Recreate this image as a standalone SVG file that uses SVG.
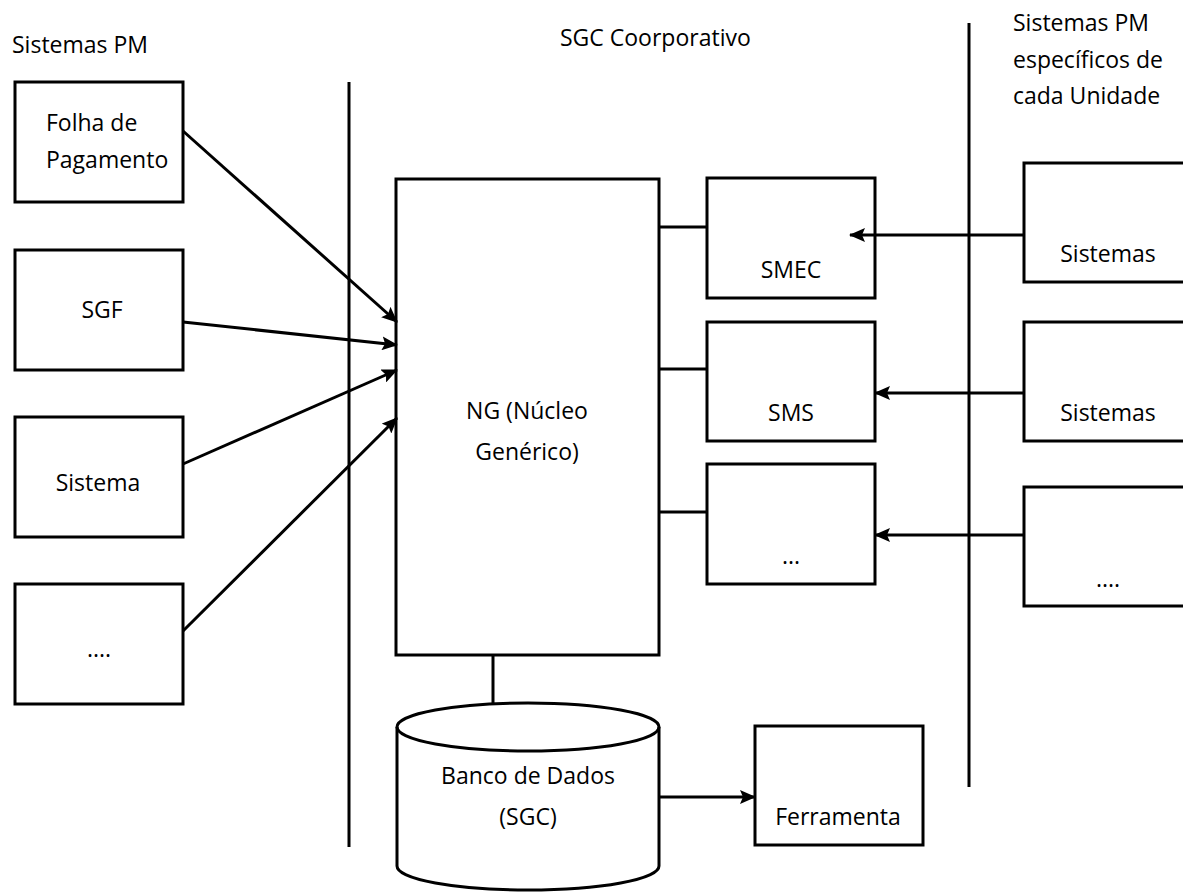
<svg xmlns="http://www.w3.org/2000/svg" width="1183" height="892" viewBox="0 0 1183 892">
<style>
.box{fill:#fff;stroke:#000;stroke-width:3}
.ln{fill:none;stroke:#000;stroke-width:3}
.arr{fill:none;stroke:#000;stroke-width:3;marker-end:url(#ah)}
text{font-family:"Open Sans","Noto Sans","DejaVu Sans",sans-serif;font-size:23px;fill:#000}
.c{text-anchor:middle}
</style>
<defs>
<marker id="ah" markerUnits="userSpaceOnUse" markerWidth="16" markerHeight="14" refX="15" refY="7" orient="auto">
<path d="M0,0 L16,7 L0,14 L3,7 Z" fill="#000"/>
</marker>
</defs>
<rect width="1183" height="892" fill="#fff"/>
<g id="headers">
<text x="12" y="53">Sistemas PM</text>
<text x="560" y="46">SGC Coorporativo</text>
<text x="1013" y="31">Sistemas PM</text>
<text x="1013" y="68">específicos de</text>
<text x="1013" y="104">cada Unidade</text>
</g>
<g id="dividers">
<line class="ln" x1="349" y1="82" x2="349" y2="847"/>
<line class="ln" x1="969" y1="23" x2="969" y2="787"/>
</g>
<g id="folha">
<rect class="box" x="15" y="82" width="168" height="120"/>
<text x="46" y="131">Folha de</text>
<text x="46" y="168">Pagamento</text>
</g>
<g id="sgf">
<rect class="box" x="15" y="250" width="168" height="120"/>
<text class="c" x="102" y="318">SGF</text>
</g>
<g id="sistema">
<rect class="box" x="15" y="417" width="168" height="120"/>
<text class="c" x="98" y="491">Sistema</text>
</g>
<g id="outros-left">
<rect class="box" x="15" y="584" width="168" height="120"/>
<text class="c" x="99" y="657">....</text>
</g>
<g id="ng">
<rect class="box" x="396" y="179" width="263" height="476"/>
<text class="c" x="527" y="419">NG (Núcleo</text>
<text class="c" x="527" y="460">Genérico)</text>
</g>
<g id="smec">
<rect class="box" x="707" y="178" width="168" height="120"/>
<text class="c" x="791" y="278">SMEC</text>
</g>
<g id="sms">
<rect class="box" x="707" y="322" width="168" height="119"/>
<text class="c" x="791" y="421">SMS</text>
</g>
<g id="outros-mid">
<rect class="box" x="707" y="464" width="168" height="120"/>
<text class="c" x="791" y="564">...</text>
</g>
<g id="sistemas1">
<rect class="box" x="1024" y="163" width="168" height="119"/>
<text class="c" x="1108" y="262">Sistemas</text>
</g>
<g id="sistemas2">
<rect class="box" x="1024" y="322" width="168" height="119"/>
<text class="c" x="1108" y="421">Sistemas</text>
</g>
<g id="outros-right">
<rect class="box" x="1024" y="487" width="168" height="119"/>
<text class="c" x="1108" y="587">....</text>
</g>
<g id="banco">
<path class="box" d="M397,727 L397,866 A131,24 0 0 0 659,866 L659,727 A131,24 0 0 0 397,727 Z"/>
<path class="ln" d="M397,727 A131,24 0 0 0 659,727"/>
<text class="c" x="528" y="784">Banco de Dados</text>
<text class="c" x="528" y="825">(SGC)</text>
</g>
<g id="ferramenta">
<rect class="box" x="755" y="726" width="168" height="119"/>
<text class="c" x="838" y="825">Ferramenta</text>
</g>
<g id="connectors">
<line class="arr" x1="183" y1="131" x2="397" y2="322"/>
<line class="arr" x1="183" y1="322" x2="397" y2="345"/>
<line class="arr" x1="183" y1="464" x2="397" y2="370"/>
<line class="arr" x1="183" y1="631" x2="397" y2="418"/>
<line class="ln" x1="659" y1="227" x2="707" y2="227"/>
<line class="ln" x1="659" y1="369" x2="707" y2="369"/>
<line class="ln" x1="659" y1="512" x2="707" y2="512"/>
<line class="ln" x1="493" y1="655" x2="493" y2="703"/>
<line class="arr" x1="1024" y1="235" x2="850" y2="235"/>
<line class="arr" x1="1024" y1="393" x2="875" y2="393"/>
<line class="arr" x1="1024" y1="535" x2="875" y2="535"/>
<line class="arr" x1="659" y1="797" x2="755" y2="797"/>
</g>
</svg>
